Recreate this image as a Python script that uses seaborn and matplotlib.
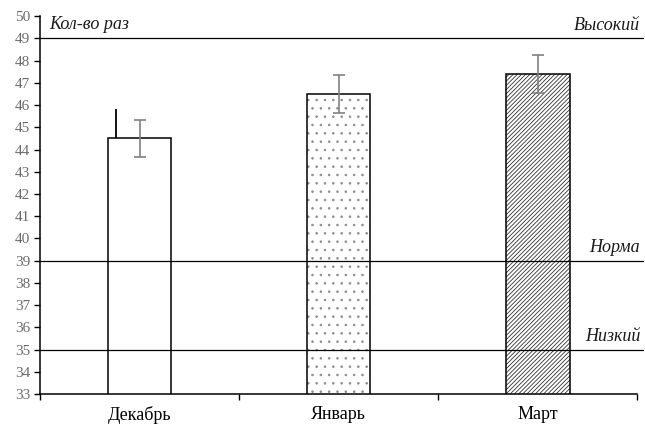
import matplotlib
matplotlib.use("Agg")
import matplotlib.pyplot as plt
import seaborn as sns
import pandas as pd

# Monthly counts with spread
months = ["Декабрь", "Январь", "Март"]
counts = [44.5, 46.5, 47.4]
spread = [0.82, 0.85, 0.87]
dec_whisker_top = 45.8

# Reference levels
levels = [49, 39, 35]
level_names = ["Высокий", "Норма", "Низкий"]

y_ticks = list(range(33, 51))
hatches = ["", "..", "////////"]
hatch_colors = ["black", "#8c8c8c", "#333333"]

sns.set_theme(style="white")
plt.rcParams["font.family"] = ["Liberation Serif", "DejaVu Serif"]
plt.rcParams["hatch.linewidth"] = 0.6

df = pd.DataFrame({"month": months, "count": counts})

fig = plt.figure(figsize=(6.45, 4.25), dpi=100)
ax = fig.add_axes([0.062, 0.073, 0.926, 0.889])

# filled bars carry the hatch (hatch takes the edge colour)
sns.barplot(data=df, x="month", y="count", ax=ax, color="white",
            width=0.32, linewidth=0, errorbar=None, zorder=2)
for patch, h, hc in zip(ax.patches, hatches, hatch_colors):
    patch.set_hatch(h)
    patch.set_facecolor("white")
    patch.set_edgecolor(hc)
    patch.set_linewidth(0)

# black outlines on top
xs = list(range(len(months)))
ax.bar(xs, counts, width=0.32, fill=False, edgecolor="black",
       linewidth=1.1, zorder=2.5)

ax.errorbar(xs, counts, yerr=spread, fmt="none", ecolor="#808080",
            elinewidth=1.2, capsize=4, capthick=1.2, zorder=4)
ax.plot([-0.12, -0.12], [counts[0], dec_whisker_top], color="black",
        lw=1.3, zorder=4, solid_capstyle="butt")

for lv, name in zip(levels, level_names):
    ax.axhline(lv, color="black", lw=0.9, zorder=3, xmin=0, xmax=1.01,
               clip_on=False)
    ax.text(1.005, lv + 0.2, name, transform=ax.get_yaxis_transform(),
            ha="right", va="bottom", fontsize=13, style="italic",
            color="#1a1a1a")

ax.text(0.015, 49.25, "Кол-во раз", transform=ax.get_yaxis_transform(),
        ha="left", va="bottom", fontsize=13, style="italic", color="#1a1a1a")

ax.set_ylim(33, 50)
ax.set_xlim(-0.5, 2.5)
ax.set_yticks(y_ticks)
ax.set_yticklabels([str(t) for t in y_ticks])
ax.set_xlabel("")
ax.set_ylabel("")

ax.set_xticks(xs)
ax.set_xticklabels(months)
ax.set_xticks([-0.5, 0.5, 1.5, 2.5], minor=True)
ax.tick_params(axis="x", which="major", length=0, pad=9, labelsize=13,
               labelcolor="black")
ax.tick_params(axis="x", which="minor", length=4, width=1, color="black",
               direction="out", bottom=True)
ax.tick_params(axis="y", length=4, width=1, color="black", direction="out",
               left=True, labelsize=11, labelcolor="#6b6b6b", pad=3)

for side in ["top", "right"]:
    ax.spines[side].set_visible(False)
for side in ["left", "bottom"]:
    ax.spines[side].set_color("black")
    ax.spines[side].set_linewidth(1.1)

fig.savefig("out.png", dpi=100, facecolor="white")
